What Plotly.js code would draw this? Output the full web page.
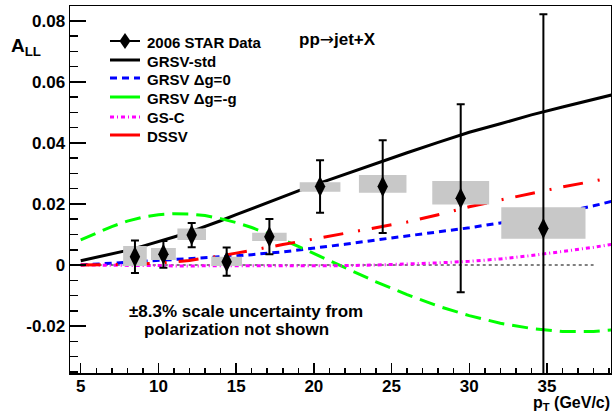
<!DOCTYPE html>
<html>
<head>
<meta charset="utf-8">
<script src="https://cdn.plot.ly/plotly-3.0.1.min.js"></script>
<style>html,body{margin:0;padding:0;background:#fff;}#chart{width:612px;height:413px;}</style>
</head>
<body>
<div id="chart"></div>
<script>
// ---- Data ----
const dataPt    = [8.49, 10.32, 12.14, 14.39, 17.14, 20.40, 24.43, 29.45, 34.77];
const dataAll   = [0.0027, 0.0035, 0.0098, 0.0011, 0.0093, 0.0257, 0.0257, 0.0219, 0.0120];
const statErr   = [0.0053, 0.0044, 0.0040, 0.0046, 0.0058, 0.0086, 0.0152, 0.0308, 0.0702];
const sysUp     = [0.0035, 0.0021, 0.0022, 0.0016, 0.0013, 0.0014, 0.0038, 0.0056, 0.0069];
const sysDown   = [0.0030, 0.0019, 0.0016, 0.0014, 0.0014, 0.0017, 0.0020, 0.0021, 0.0034];
const binHalfW  = [0.76, 0.80, 0.92, 0.99, 1.11, 1.31, 1.53, 1.83, 2.71];

const thPt      = [5, 6, 7, 8, 9, 10, 11, 12, 13, 14, 15, 16, 17, 18, 19, 20, 21, 22, 24, 26, 28, 30, 32, 34, 36, 38, 39.2];
const grsvStd   = [0.0014, 0.0025, 0.0036, 0.0048, 0.0062, 0.0076, 0.0092, 0.0108, 0.0126, 0.0145, 0.0165, 0.0185, 0.0204, 0.0223, 0.0243, 0.0262, 0.0280, 0.0297, 0.0333, 0.0368, 0.0402, 0.0435, 0.0463, 0.0492, 0.0518, 0.0543, 0.0558];
const grsvZero  = [0, 0.0003, 0.0006, 0.0009, 0.0011, 0.0014, 0.0016, 0.0019, 0.0022, 0.0026, 0.0030, 0.0034, 0.0038, 0.0043, 0.0049, 0.0055, 0.0061, 0.0068, 0.0082, 0.0095, 0.0108, 0.0122, 0.0138, 0.0155, 0.0173, 0.0194, 0.0209];
const grsvMinus = [0.0082, 0.0105, 0.0126, 0.0144, 0.0157, 0.0165, 0.0168, 0.0167, 0.0162, 0.0152, 0.0139, 0.0123, 0.0104, 0.0083, 0.0061, 0.0038, 0.0014, -0.0010, -0.0055, -0.0097, -0.0135, -0.0166, -0.0191, -0.0208, -0.0218, -0.0218, -0.0213];
const gsC       = [0, 0, -0.0001, -0.0001, -0.0002, -0.0002, -0.0003, -0.0003, -0.0003, -0.0004, -0.0004, -0.0004, -0.0004, -0.0004, -0.0004, -0.0004, -0.0003, -0.0002, 0, 0.0003, 0.0007, 0.0012, 0.0020, 0.0031, 0.0044, 0.0058, 0.0068];
const dssv      = [0, 0, 0.0001, 0.0002, 0.0004, 0.0006, 0.0010, 0.0015, 0.0022, 0.0030, 0.0039, 0.0049, 0.0058, 0.0067, 0.0076, 0.0085, 0.0095, 0.0104, 0.0122, 0.0141, 0.0165, 0.0191, 0.0213, 0.0235, 0.0256, 0.0275, 0.0287];

const yTickVals = [-0.02, 0, 0.02, 0.04, 0.06, 0.08];
const yTickText = ["-0.02", "0", "0.02", "0.04", "0.06", "0.08"];
const xTickVals = [5, 10, 15, 20, 25, 30, 35];
const xTickText = ["5", "10", "15", "20", "25", "30", "35"];
const zeroLineSpan = [5, 38];

const legendNames = ["2006 STAR Data", "GRSV-std", "GRSV \u0394g=0", "GRSV \u0394g=-g", "GS-C", "DSSV"];

// ---- Styles ----
const FONT = "Liberation Sans, Arial, Helvetica, sans-serif";
const W = 3;
const styles = [
  {color: '#000000', width: 2, dash: 'solid'},
  {color: '#000000', width: W, dash: 'solid'},
  {color: '#0000ff', width: W, dash: '7px,5px'},
  {color: '#00ff00', width: W, dash: '16px,8px'},
  {color: '#ff00ff', width: W, dash: '4px,3px,1px,3px'},
  {color: '#ff0000', width: W, dash: '20px,15px,2px,12px'}
];
const legendSampleStyles = [
  {color: '#000000', width: 2, dash: 'solid'},
  {color: '#000000', width: W, dash: 'solid'},
  {color: '#0000ff', width: W, dash: '7px,5px'},
  {color: '#00ff00', width: W, dash: 'solid'},
  {color: '#ff00ff', width: W, dash: '4px,3px,1px,3px'},
  {color: '#ff0000', width: W, dash: 'solid'}
];

// ---- Systematic boxes (one filled trace with gaps) ----
const boxX = [], boxY = [];
dataPt.forEach((x, i) => {
  const lo = dataAll[i] - sysDown[i], hi = dataAll[i] + sysUp[i];
  const x0 = x - binHalfW[i], x1 = x + binHalfW[i];
  boxX.push(x0, x1, x1, x0, x0, null);
  boxY.push(lo, lo, hi, hi, lo, null);
});

const curves = [grsvStd, grsvZero, grsvMinus, gsC, dssv];
const traces = curves.map((c, i) => ({
  x: thPt, y: c, mode: 'lines', name: legendNames[i + 1], showlegend: false,
  line: styles[i + 1]
}));
traces.push({x: boxX, y: boxY, mode: 'lines', fill: 'toself', fillcolor: '#c8c8c8',
  line: {width: 0, color: '#c8c8c8'}, showlegend: false, hoverinfo: 'skip'});
traces.push({x: dataPt, y: dataAll, mode: 'markers', name: legendNames[0], showlegend: false,
  marker: {symbol: 'diamond-tall', size: 15, color: '#000000'},
  error_y: {type: 'data', array: statErr, visible: true, color: '#000000', thickness: 2, width: 4}});

// ---- Plot geometry helpers (pixel -> paper) for decorations ----
const M = {l: 70, r: 1, t: 6, b: 40};
const PW = 612 - M.l - M.r, PH = 413 - M.t - M.b;
const px = v => (v - M.l) / PW;
const py = v => (413 - M.b - v) / PH;

// ---- Manual legend (ROOT-like compact spacing) ----
const legRows = [41, 60, 78, 97, 117, 135];
const legX0 = 110, legX1 = 140, legText = 145;
const shapes = [
  {type: 'line', xref: 'x', yref: 'y', x0: zeroLineSpan[0], x1: zeroLineSpan[1], y0: 0, y1: 0,
   layer: 'below', line: {color: '#000', width: 1, dash: '3px,3px'}}
];
const annotations = [];
legRows.forEach((ry, i) => {
  shapes.push({type: 'line', xref: 'paper', yref: 'paper', x0: px(legX0), x1: px(legX1),
    y0: py(ry), y1: py(ry), line: legendSampleStyles[i]});
  annotations.push({xref: 'paper', yref: 'paper', x: px(legText), y: py(ry + 1),
    xanchor: 'left', yanchor: 'middle', showarrow: false,
    text: '<b>' + legendNames[i] + '</b>', font: {family: FONT, size: 15, color: '#000'}});
});
{
  const cx = (legX0 + legX1) / 2, cy = legRows[0];
  shapes.push({type: 'path', xref: 'paper', yref: 'paper', fillcolor: '#000', line: {width: 0},
    path: `M ${px(cx)} ${py(cy - 8)} L ${px(cx + 5.5)} ${py(cy)} L ${px(cx)} ${py(cy + 8)} L ${px(cx - 5.5)} ${py(cy)} Z`});
}

annotations.push(
  {xref: 'paper', yref: 'paper', x: px(9), y: py(47), xanchor: 'left', yanchor: 'middle',
   text: '<b>A<sub>LL</sub></b>', showarrow: false, font: {family: FONT, size: 19, color: '#000'}},
  {xref: 'paper', yref: 'paper', x: 1.0, y: py(414), xanchor: 'right', yanchor: 'bottom', borderpad: 0,
   text: '<b>p<sub>T</sub> (GeV/c)</b>', showarrow: false, font: {family: FONT, size: 16, color: '#000'}},
  {xref: 'paper', yref: 'paper', x: px(297), y: py(39), xanchor: 'left', yanchor: 'middle',
   text: '<b>pp<span style="font-family:DejaVu Sans;font-weight:normal">\u2192</span>jet+X</b>', showarrow: false,
   font: {family: FONT, size: 17, color: '#000'}},
  {xref: 'paper', yref: 'paper', x: px(246), y: py(311), xanchor: 'center', yanchor: 'middle',
   text: '<b>\u00b18.3% scale uncertainty from</b>', showarrow: false, font: {family: FONT, size: 17, color: '#000'}},
  {xref: 'paper', yref: 'paper', x: px(236), y: py(329), xanchor: 'center', yanchor: 'middle',
   text: '<b>polarization not shown</b>', showarrow: false, font: {family: FONT, size: 17, color: '#000'}}
);

const layout = {
  width: 612, height: 413,
  margin: M,
  paper_bgcolor: '#ffffff', plot_bgcolor: '#ffffff',
  font: {family: FONT, color: '#000000', size: 15},
  showlegend: false,
  xaxis: {range: [4.31, 39.12], showgrid: false, zeroline: false,
          showline: true, linecolor: '#000', linewidth: 1.5, mirror: true,
          ticks: 'inside', ticklen: 10, tickwidth: 1.5, tickcolor: '#000',
          ticklabelstandoff: -3,
          tickmode: 'array', tickvals: xTickVals, ticktext: xTickText,
          minor: {ticks: 'inside', ticklen: 5, tickwidth: 1.5, tickcolor: '#000', tickmode: 'linear', tick0: 5, dtick: 1},
          tickfont: {family: FONT, size: 17, weight: 'bold', color: '#000'}},
  yaxis: {range: [-0.0354, 0.0849], showgrid: false, zeroline: false,
          showline: true, linecolor: '#000', linewidth: 1.5, mirror: true,
          ticks: 'inside', ticklen: 16, tickwidth: 1.5, tickcolor: '#000',
          tickmode: 'array', tickvals: yTickVals, ticktext: yTickText,
          minor: {ticks: 'inside', ticklen: 8, tickwidth: 1.5, tickcolor: '#000', tickmode: 'linear', tick0: 0, dtick: 0.005},
          tickfont: {family: FONT, size: 17, weight: 'bold', color: '#000'}},
  shapes: shapes,
  annotations: annotations
};

Plotly.newPlot('chart', traces, layout, {displayModeBar: false, staticPlot: true});
</script>
</body>
</html>
